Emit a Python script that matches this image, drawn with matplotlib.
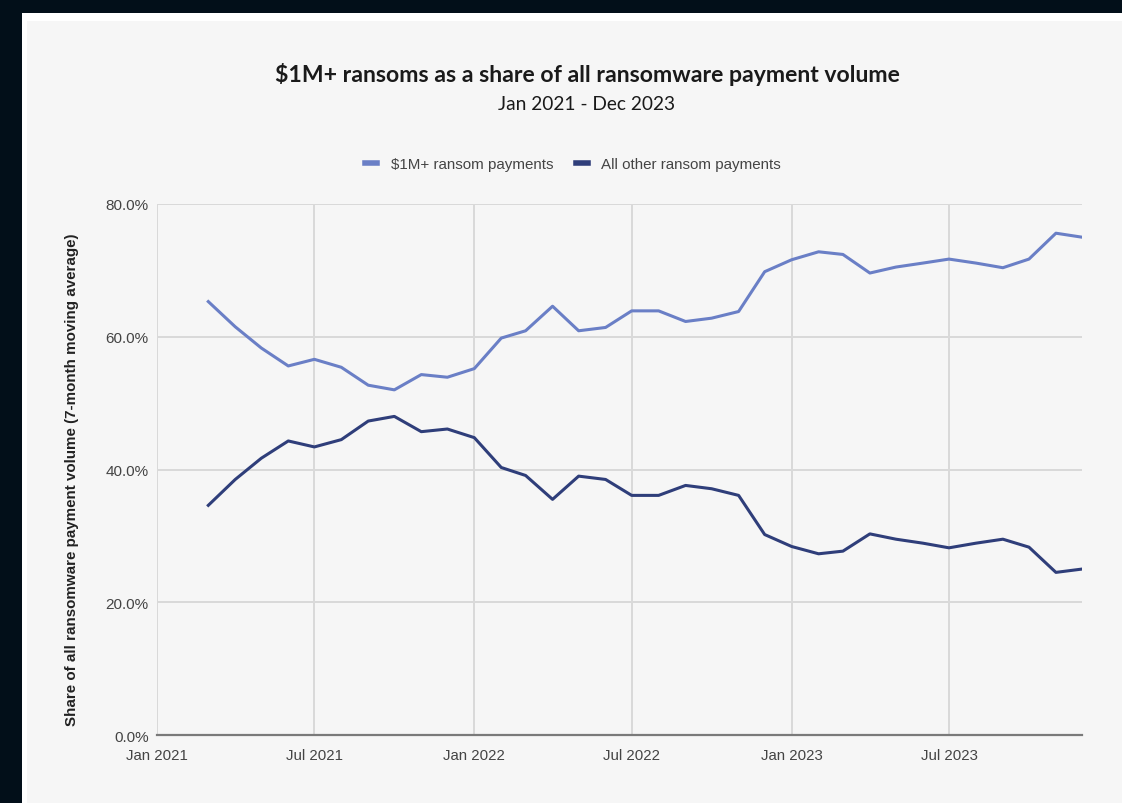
import numpy as np
import pandas as pd
import matplotlib
matplotlib.use("Agg")
import matplotlib.pyplot as plt
import matplotlib.dates as mdates
from matplotlib.patches import Rectangle
from matplotlib.ticker import FuncFormatter

# monthly points, Mar 2021 - Dec 2023 (7-month moving average)
months = pd.date_range("2021-03-01", "2023-12-01", freq="MS")
big = [65.3, 61.5, 58.3, 55.6, 56.6, 55.4, 52.7, 52.0, 54.3, 53.9,
       55.2, 59.8, 60.9, 64.6, 60.9, 61.4, 63.9, 63.9, 62.3, 62.8, 63.8, 69.8,
       71.6, 72.8, 72.4, 69.6, 70.5, 71.1, 71.7, 71.1, 70.4, 71.7, 75.6, 75.0]
other = [34.6, 38.5, 41.7, 44.3, 43.4, 44.5, 47.3, 48.0, 45.7, 46.1,
         44.8, 40.3, 39.1, 35.5, 39.0, 38.5, 36.1, 36.1, 37.6, 37.1, 36.1, 30.2,
         28.4, 27.3, 27.7, 30.3, 29.5, 28.9, 28.2, 28.9, 29.5, 28.3, 24.5, 25.0]
series_names = ["$1M+ ransom payments", "All other ransom payments"]
colors = ["#6a7fc6", "#2f3e7a"]

W, H = 1122, 804
fig = plt.figure(figsize=(W / 100, H / 100), dpi=100)
fig.patch.set_facecolor("#020f19")
# white frame + grey card
fig.add_artist(Rectangle((22 / W, 0), 1, (H - 14) / H, transform=fig.transFigure,
                         facecolor="white", edgecolor="none", zorder=-2))
fig.add_artist(Rectangle((27 / W, 0), 1, (H - 22) / H, transform=fig.transFigure,
                         facecolor="#f6f6f6", edgecolor="none", zorder=-1))

ax = fig.add_axes([157 / W, 1 - 736 / H, (1082 - 157) / W, (736 - 205) / H])
ax.set_facecolor("#f6f6f6")

ax.plot(months, big, color=colors[0], lw=2.2, label=series_names[0], zorder=3)
ax.plot(months, other, color=colors[1], lw=2.2, label=series_names[1], zorder=3)

ax.set_xlim(pd.Timestamp("2021-01-01"), pd.Timestamp("2023-12-01"))
ax.set_ylim(0, 80)
ax.set_yticks([0, 20, 40, 60, 80])
ax.yaxis.set_major_formatter(FuncFormatter(lambda v, p: f"{v:.1f}%"))
ax.xaxis.set_major_locator(mdates.MonthLocator(bymonth=[1, 7]))
ax.xaxis.set_major_formatter(mdates.DateFormatter("%b %Y"))

ax.grid(True, color="#d9d9d9", lw=1.4)
ax.set_axisbelow(True)
for s in ["top", "right", "left"]:
    ax.spines[s].set_visible(False)
ax.spines["bottom"].set_color("#7a7a7a")
ax.spines["bottom"].set_linewidth(1.6)
ax.spines["bottom"].set_zorder(4)
ax.tick_params(length=0, colors="#444444")
ax.tick_params(axis="x", labelsize=10.8, pad=9)
ax.tick_params(axis="y", labelsize=11, pad=6)
for lab in ax.get_xticklabels() + ax.get_yticklabels():
    lab.set_fontfamily("Liberation Sans")

ax.set_ylabel("Share of all ransomware payment volume (7-month moving average)",
              fontfamily="Liberation Sans", fontweight="bold", fontsize=10.9,
              color="#222222")
ax.yaxis.set_label_coords(-78 / (1082 - 157), 0.482)

fig.text(587 / W, 1 - 75 / H, "$1M+ ransoms as a share of all ransomware payment volume",
         ha="center", va="center", fontfamily="Lato", fontweight="bold",
         fontsize=16.6, color="#1a1a1a")
fig.text(587 / W, 1 - 104 / H, "Jan 2021 - Dec 2023", ha="center", va="center",
         fontfamily="Lato", fontsize=13.8, color="#1a1a1a")

leg = fig.legend(loc="center", bbox_to_anchor=(573 / W, 1 - 165 / H), ncol=2,
                 frameon=False, handlelength=0.8, handletextpad=0.9,
                 columnspacing=1.5, prop={"family": "Liberation Sans", "size": 10.9})
for h in leg.legend_handles:
    h.set_linewidth(4)
for t in leg.get_texts():
    t.set_color("#444444")

fig.savefig("out.png", dpi=100, facecolor=fig.get_facecolor())
